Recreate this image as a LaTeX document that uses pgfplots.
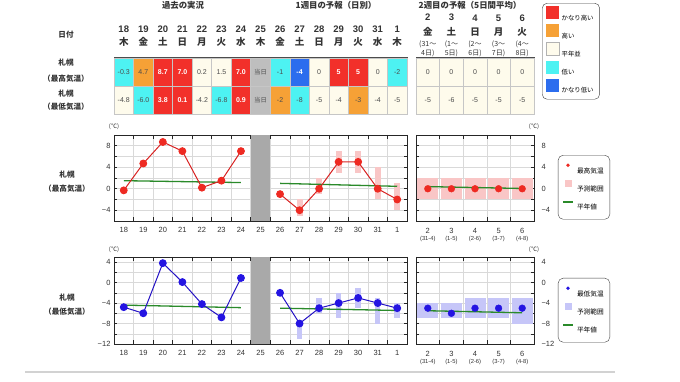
\documentclass[border=0pt]{standalone}
\usepackage{fontspec}
\setmainfont{Liberation Sans}
\newfontfamily\jp{Noto Sans CJK JP}
\usepackage{pgfplots}
\usepackage{pgfplotstable}
\pgfplotsset{compat=1.18}

\definecolor{cR}{HTML}{F2302A}
\definecolor{cO}{HTML}{F6A136}
\definecolor{cN}{HTML}{FEFBEC}
\definecolor{cL}{HTML}{4DF2F2}
\definecolor{cB}{HTML}{2C6DEE}
\definecolor{cG}{HTML}{BEBEBE}
\definecolor{lineR}{HTML}{D82222}
\definecolor{dotR}{HTML}{EE2A22}
\definecolor{lineB}{HTML}{2412C4}
\definecolor{dotB}{HTML}{2414E2}
\definecolor{rngR}{HTML}{F9C6C6}
\definecolor{rngB}{HTML}{C6C6F8}
\definecolor{norm}{HTML}{2A8A2A}
\definecolor{today}{HTML}{A9A9A9}
\definecolor{txt}{HTML}{333333}

\protected\def\W#1{{\color{white}\bfseries #1}}
\protected\def\J#1{{\jp\fontsize{6.3}{7}\selectfont #1}}
\protected\def\hA#1#2{\begin{tabular}[b]{@{}c@{}}#1\\[2.3pt]\jp #2\end{tabular}}
\protected\def\hB#1#2#3#4{\begin{tabular}[b]{@{}c@{}}\fontsize{9.5}{11}\selectfont\bfseries #1\\[4pt]\fontsize{9.5}{11}\selectfont\bfseries\jp #2\\[2pt]\jp #3\\\jp #4\end{tabular}}
\protected\def\wk#1#2{\begin{tabular}{@{}c@{}}#1\\[-2pt]\fontsize{5.8}{7}\selectfont #2\end{tabular}}

\pgfdeclareplotmark{cellA}{\pgfpathrectangle{\pgfqpoint{-9.77pt}{-14pt}}{\pgfqpoint{19.53pt}{28pt}}\pgfusepathqfillstroke}
\pgfdeclareplotmark{cellB}{\pgfpathrectangle{\pgfqpoint{-11.8pt}{-14pt}}{\pgfqpoint{23.6pt}{28pt}}\pgfusepathqfillstroke}

\pgfplotstableread{
x y c t
0 1.5 l -0.3
1 1.5 o 4.7
2 1.5 r \W{8.7}
3 1.5 r \W{7.0}
4 1.5 n 0.2
5 1.5 n 1.5
6 1.5 r \W{7.0}
7 1.5 g \J{当日}
8 1.5 l -1
9 1.5 b \W{-4}
10 1.5 n 0
11 1.5 r \W{5}
12 1.5 r \W{5}
13 1.5 n 0
14 1.5 l -2
0 0.5 n -4.8
1 0.5 l -6.0
2 0.5 r \W{3.8}
3 0.5 r \W{0.1}
4 0.5 n -4.2
5 0.5 l -6.8
6 0.5 r \W{0.9}
7 0.5 g \J{当日}
8 0.5 o -2
9 0.5 l -8
10 0.5 n -5
11 0.5 n -4
12 0.5 o -3
13 0.5 n -4
14 0.5 n -5
}\tabA

\pgfplotstableread{
x y c t
0 1.5 n 0
1 1.5 n 0
2 1.5 n 0
3 1.5 n 0
4 1.5 n 0
0 0.5 n -5
1 0.5 n -6
2 0.5 n -5
3 0.5 n -5
4 0.5 n -5
}\tabB

% max temperatures
\pgfplotstableread{
x v
0 -0.3
1 4.7
2 8.7
3 7.0
4 0.2
5 1.5
6 7.0
}\hiPast
\pgfplotstableread{
x v
8 -1
9 -4
10 0
11 5
12 5
13 0
14 -2
}\hiFc
\pgfplotstableread{
x lo hi
9 -5 -2
10 -1 2
11 3 7
12 3 7
13 -2 4
14 -4 1
}\hiRng
\pgfplotstableread{
x v lo hi
0 0 -2 2
1 0 -2 2
2 0 -2 2
3 0 -2 2
4 0 -2 2
}\hiWk

% min temperatures
\pgfplotstableread{
x v
0 -4.8
1 -6.0
2 3.8
3 0.1
4 -4.2
5 -6.8
6 0.9
}\loPast
\pgfplotstableread{
x v
8 -2
9 -8
10 -5
11 -4
12 -3
13 -4
14 -5
}\loFc
\pgfplotstableread{
x lo hi
9 -11 -8
10 -6 -3
11 -7 -2
12 -5 -1
13 -8 -3
14 -7 -4
}\loRng
\pgfplotstableread{
x v lo hi
0 -5 -7 -4
1 -6 -7 -4
2 -5 -7 -3
3 -5 -7 -3
4 -5 -8 -3
}\loWk

\pgfplotsset{
  tbl/.style={anchor=south west, scale only axis, height=56pt, ymin=0, ymax=2,
    axis on top, axis line style={draw=black!70, line width=1pt}, ytick=\empty,
    major tick length=0pt, xticklabel pos=upper, clip=false},
  cells/.style={forget plot, scatter, only marks, scatter src=explicit symbolic,
    scatter/classes={
      r={mark=#1,fill=cR,draw=gray!45,line width=0.5pt},
      o={mark=#1,fill=cO,draw=gray!45,line width=0.5pt},
      n={mark=#1,fill=cN,draw=gray!45,line width=0.5pt},
      l={mark=#1,fill=cL,draw=gray!45,line width=0.5pt},
      b={mark=#1,fill=cB,draw=gray!45,line width=0.5pt},
      g={mark=#1,fill=cG,draw=gray!45,line width=0.5pt}}},
  celltext/.style={forget plot, only marks, mark=none, point meta=explicit symbolic,
    nodes near coords, nodes near coords style={anchor=center, text=black!70,
    font=\fontsize{7}{8}\selectfont}},
  chart/.style={anchor=south west, scale only axis,
    axis line style={black!85, line width=0.9pt},
    major x tick style={draw=none}, xminorgrids=true, ymajorgrids=true,
    major grid style={gray!30, line width=0.5pt}, minor grid style={gray!30, line width=0.5pt},
    tick style={black!85, line width=0.5pt}, major tick length=3pt, minor tick length=4pt,
    ticklabel style={font=\fontsize{7.5}{9}\selectfont, text=black!80},
    xticklabel style={yshift=-3pt},
    /pgf/number format/assume math mode=true},
  rng/.style 2 args={forget plot, only marks, mark=none, error bars/.cd, y dir=both, y explicit,
    error mark=none, error bar style={line width=#1, #2}},
  chartleg/.style={legend style={at={(1.203,#1)}, anchor=north west, draw=black!75,
    rounded corners=5pt, fill=white, font=\jp\fontsize{6.7}{8}\selectfont, row sep=3pt,
    inner xsep=4pt, inner ysep=6pt}, legend cell align=left},
  sq/.style={legend image code/.code={\path[draw=none, fill=#1, sharp corners] (0pt,-6.5pt) rectangle (13pt,6.5pt);}},
  legdot/.style={legend image code/.code={\path[draw=none, fill=none, sharp corners] (0pt,-4pt) rectangle (12pt,4pt); \path[draw=none, fill=#1] (5pt,0pt) circle (1.9pt);}},
  legrng/.style={legend image code/.code={\path[draw=none, fill=none, sharp corners] (0pt,-4pt) rectangle (12pt,4pt); \path[draw=none, fill=#1, sharp corners] (1.5pt,-3.6pt) rectangle (8.7pt,3.6pt);}},
  legline/.style={legend image code/.code={\path[draw=none, fill=none, sharp corners] (0pt,-4pt) rectangle (12pt,4pt); \path[draw=norm, fill=none, line width=1.7pt, sharp corners] (0pt,0pt) -- (10pt,0pt);}},
}

\begin{document}
\begin{tikzpicture}
\path[use as bounding box] (0pt,0pt) rectangle (680pt,382pt);

% titles
\begin{scope}[every node/.style={font=\jp\bfseries\fontsize{8.4}{10}\selectfont, text=txt}]
\node at (183pt,376.5pt) {過去の実況};
\node at (336pt,376.5pt) {1週目の予報（日別）};
\node at (470pt,376.5pt) {2週目の予報（5日間平均）};
\end{scope}
\begin{scope}[every node/.style={font=\jp\bfseries\fontsize{7.6}{9}\selectfont, text=txt}]
\node at (66pt,347pt) {日付};
\node at (66pt,319pt) {札幌};
\node at (66pt,303pt) {（最高気温）};
\node at (66pt,288pt) {札幌};
\node at (66pt,275pt) {（最低気温）};
\node at (67pt,207pt) {札幌};
\node at (67pt,193pt) {（最高気温）};
\node at (67pt,84pt) {札幌};
\node at (67pt,70pt) {（最低気温）};
\end{scope}
\begin{scope}[every node/.style={font=\jp\fontsize{6}{7}\selectfont, text=txt}]
\node at (114pt,255pt) {(℃)};
\node at (534pt,255pt) {(℃)};
\node at (114pt,132pt) {(℃)};
\node at (534pt,132pt) {(℃)};
\end{scope}
\draw[gray!35, line width=1.8pt] (25pt,10pt) -- (615pt,10pt);

% ---- table, week 1 ----
\begin{axis}[tbl, at={(114pt,268pt)}, width=293pt, xmin=-0.5, xmax=14.5,
  xtick={0,...,14},
  xticklabels={{\hA{18}{木}},{\hA{19}{金}},{\hA{20}{土}},{\hA{21}{日}},{\hA{22}{月}},{\hA{23}{火}},{\hA{24}{水}},{\hA{25}{木}},{\hA{26}{金}},{\hA{27}{土}},{\hA{28}{日}},{\hA{29}{月}},{\hA{30}{火}},{\hA{31}{水}},{\hA{1}{木}}},
  xticklabel style={anchor=base, yshift=12pt, font=\fontsize{9.5}{11}\selectfont\bfseries, text=txt}]
\addplot[cells=cellA] table[x=x,y=y,meta=c]{\tabA};
\addplot[celltext] table[x=x,y=y,meta=t]{\tabA};
\end{axis}

% ---- table, week 2 ----
\begin{axis}[tbl, at={(416pt,268pt)}, width=118pt, xmin=-0.5, xmax=4.5,
  xtick={0,...,4},
  xticklabels={{\hB{2}{金}{(31～}{4日)}},{\hB{3}{土}{(1～}{5日)}},{\hB{4}{日}{(2～}{6日)}},{\hB{5}{月}{(3～}{7日)}},{\hB{6}{火}{(4～}{8日)}}},
  xticklabel style={anchor=base, yshift=2.3pt, font=\fontsize{7}{9}\selectfont, text=txt},
  legend style={at={(1.068,1.982)}, anchor=north west, draw=black!75, rounded corners=5pt,
    fill=white, font=\jp\fontsize{6.4}{8}\selectfont, row sep=0.5pt, inner xsep=4pt, inner ysep=3pt},
  legend cell align=left]
\addplot[cells=cellB] table[x=x,y=y,meta=c]{\tabB};
\addplot[celltext] table[x=x,y=y,meta=t]{\tabB};
\addlegendimage{sq=cR}
\addlegendentry{かなり高い}
\addlegendimage{sq=cO}
\addlegendentry{高い}
\addlegendimage{legend image code/.code={\path[draw=gray!60, fill=cN, sharp corners] (0pt,-6.5pt) rectangle (13pt,6.5pt);}}
\addlegendentry{平年並}
\addlegendimage{sq=cL}
\addlegendentry{低い}
\addlegendimage{sq=cB}
\addlegendentry{かなり低い}
\end{axis}

% ---- max temperature, daily ----
\begin{axis}[chart, at={(114pt,161pt)}, width=293pt, height=86pt,
  xmin=-0.5, xmax=14.5, ymin=-6, ymax=10,
  xtick={0,...,14}, minor xtick={-0.5,0.5,...,14.5},
  xticklabels={18,19,20,21,22,23,24,25,26,27,28,29,30,31,1},
  ytick={-6,-4,...,10}, yticklabels={,−4,,0,,4,,8,}]
\addplot[forget plot, fill=today, draw=none] coordinates {(6.52,-6) (7.48,-6) (7.48,10) (6.52,10)} -- cycle;
\addplot[rng={6pt}{rngR}] table[x=x, y expr={(\thisrow{lo}+\thisrow{hi})/2}, y error expr={(\thisrow{hi}-\thisrow{lo})/2}]{\hiRng};
\addplot[forget plot, norm, line width=1.3pt] coordinates {(0,1.5) (6,1.15)};
\addplot[forget plot, norm, line width=1.3pt] coordinates {(8,1.0) (14,0.45)};
\addplot[forget plot, lineR, line width=1pt, mark=*, mark size=3.4pt, mark options={fill=dotR, draw=dotR}] table[x=x,y=v]{\hiPast};
\addplot[forget plot, lineR, line width=1pt, mark=*, mark size=3.4pt, mark options={fill=dotR, draw=dotR}] table[x=x,y=v]{\hiFc};
\end{axis}

% ---- max temperature, week 2 ----
\begin{axis}[chart, at={(416pt,161pt)}, width=118pt, height=86pt,
  xmin=-0.5, xmax=4.5, ymin=-6, ymax=10,
  xtick={0,...,4}, minor xtick={-0.5,0.5,...,4.5},
  xticklabels={{\wk{2}{(31-4)}},{\wk{3}{(1-5)}},{\wk{4}{(2-6)}},{\wk{5}{(3-7)}},{\wk{6}{(4-8)}}},
  ytick={-6,-4,...,10}, yticklabels={,−4,,0,,4,,8,}, yticklabel pos=right,
  yticklabel style={xshift=4pt}, chartleg=0.767]
\addplot[rng={21pt}{rngR}] table[x=x, y expr={(\thisrow{lo}+\thisrow{hi})/2}, y error expr={(\thisrow{hi}-\thisrow{lo})/2}]{\hiWk};
\addplot[forget plot, norm, line width=1.3pt] coordinates {(0,0.4) (4,0.05)};
\addplot[forget plot, only marks, mark=*, mark size=3.4pt, mark options={fill=dotR, draw=dotR}] table[x=x,y=v]{\hiWk};
\addlegendimage{legdot=dotR}
\addlegendentry{最高気温}
\addlegendimage{legrng=rngR}
\addlegendentry{予測範囲}
\addlegendimage{legline}
\addlegendentry{平年値}
\end{axis}

% ---- min temperature, daily ----
\begin{axis}[chart, at={(114pt,38pt)}, width=293pt, height=87pt,
  xmin=-0.5, xmax=14.5, ymin=-12, ymax=5,
  xtick={0,...,14}, minor xtick={-0.5,0.5,...,14.5},
  xticklabels={18,19,20,21,22,23,24,25,26,27,28,29,30,31,1},
  ytick={-12,-10,...,4}, yticklabels={−12,,−8,,−4,,0,,4}]
\addplot[forget plot, fill=today, draw=none] coordinates {(6.52,-12) (7.48,-12) (7.48,5) (6.52,5)} -- cycle;
\addplot[rng={5.5pt}{rngB}] table[x=x, y expr={(\thisrow{lo}+\thisrow{hi})/2}, y error expr={(\thisrow{hi}-\thisrow{lo})/2}]{\loRng};
\addplot[forget plot, norm, line width=1.3pt] coordinates {(0,-4.4) (6,-4.9)};
\addplot[forget plot, norm, line width=1.3pt] coordinates {(8,-5.0) (14,-5.45)};
\addplot[forget plot, lineB, line width=1pt, mark=*, mark size=3.4pt, mark options={fill=dotB, draw=dotB}] table[x=x,y=v]{\loPast};
\addplot[forget plot, lineB, line width=1pt, mark=*, mark size=3.4pt, mark options={fill=dotB, draw=dotB}] table[x=x,y=v]{\loFc};
\end{axis}

% ---- min temperature, week 2 ----
\begin{axis}[chart, at={(416pt,38pt)}, width=118pt, height=87pt,
  xmin=-0.5, xmax=4.5, ymin=-12, ymax=5,
  xtick={0,...,4}, minor xtick={-0.5,0.5,...,4.5},
  xticklabels={{\wk{2}{(31-4)}},{\wk{3}{(1-5)}},{\wk{4}{(2-6)}},{\wk{5}{(3-7)}},{\wk{6}{(4-8)}}},
  ytick={-12,-10,...,4}, yticklabels={−12,,−8,,−4,,0,,4}, yticklabel pos=right,
  yticklabel style={xshift=4pt}, chartleg=0.759]
\addplot[rng={21pt}{rngB}] table[x=x, y expr={(\thisrow{lo}+\thisrow{hi})/2}, y error expr={(\thisrow{hi}-\thisrow{lo})/2}]{\loWk};
\addplot[forget plot, norm, line width=1.3pt] coordinates {(0,-5.5) (4,-5.9)};
\addplot[forget plot, only marks, mark=*, mark size=3.4pt, mark options={fill=dotB, draw=dotB}] table[x=x,y=v]{\loWk};
\addlegendimage{legdot=dotB}
\addlegendentry{最低気温}
\addlegendimage{legrng=rngB}
\addlegendentry{予測範囲}
\addlegendimage{legline}
\addlegendentry{平年値}
\end{axis}
\end{tikzpicture}
\end{document}
